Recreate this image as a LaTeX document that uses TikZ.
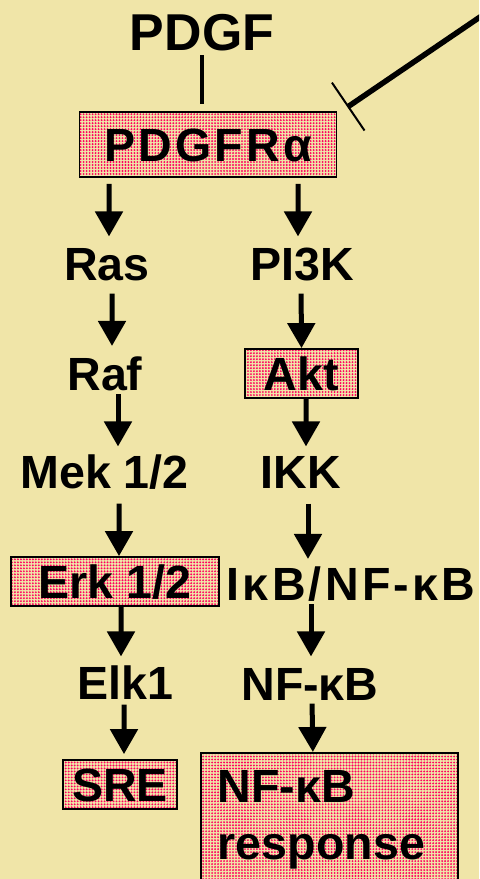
\documentclass[tikz,border=0pt]{standalone}
\usepackage{fontspec}
\setmainfont{Liberation Sans}
\usetikzlibrary{arrows.meta, patterns.meta}

\definecolor{paper}{RGB}{240,229,168}
\definecolor{dotpink}{RGB}{255,0,96}
\newcommand{\lblfont}{\fontsize{26.5}{32.3}\selectfont\bfseries}
\newcommand{\widefont}{\lblfont\addfontfeature{LetterSpace=7}}

\begin{document}
\begin{tikzpicture}

% Styles
\tikzset{
  lbl/.style={font=\lblfont, inner sep=0pt, text height=19pt, text depth=0pt},
  dotbox/.style={draw, line width=1pt, pattern={Dots[radius=0.6pt, distance=1.7pt]}, pattern color=dotpink},
  block/.style={lbl, dotbox},
  link/.style={line width=0.08cm},
  arr/.style={line width=0.1cm, -{Triangle[length=0.5cm, width=0.54cm]}},
  inhib/.style={line width=0.11cm, -{Bar[width=1.16cm, line width=0.04cm]}}
}

% Page
\clip (0,0) rectangle (9.58,-17.58);
\fill[paper] (0,0) rectangle (9.58,-17.58);

% Nodes
\node (pdgf) [lbl, font=\fontsize{29.5}{35}\selectfont\bfseries, text height=21.1pt] at (4.04,-0.63) {PDGF};
\node (pdgfr) [block, font=\widefont, minimum width=5.14cm, minimum height=1.3cm] at (4.16,-2.89) {PDGFRα};
\node (ras) [lbl] at (2.14,-5.27) {Ras};
\node (pi3k) [lbl] at (6.04,-5.27) {PI3K};
\node (raf) [lbl] at (2.10,-7.48) {Raf};
\node (akt) [block, minimum width=2.26cm, minimum height=0.98cm] at (6.03,-7.47) {Akt};
\node (mek) [lbl] at (2.09,-9.43) {Mek 1/2};
\node (ikk) [lbl] at (6.02,-9.43) {IKK};
\node (erk) [block, minimum width=4.16cm, minimum height=0.98cm] at (2.30,-11.63) {Erk 1/2};
\node (ikb) [lbl, font=\widefont] at (7.02,-11.68) {IκB/NF-κB};
\node (elk) [lbl] at (2.50,-13.65) {Elk1};
\node (nfkb) [lbl] at (6.20,-13.67) {NF-κB};
\node (sre) [block, minimum width=2.28cm, minimum height=0.98cm] at (2.40,-15.69) {SRE};
\node (resp) [dotbox, font=\lblfont, anchor=north west, text width=4.46cm, align=left,
  inner xsep=0.34cm, inner ysep=0.36cm] at (4.0,-15.04) {NF-κB\\response};
\coordinate (src) at (10.1,0);

% Links
\draw [link, shorten <=.1cm, shorten >=.14cm] (pdgf.south) -- (pdgf.south |- pdgfr.north);
\draw [inhib] (src) -- ([xshift=.2cm, yshift=.08cm]pdgfr.north east);

% Arrows
\draw [arr, shorten <=.12cm, shorten >=.2cm] ([xshift=-1.98cm]pdgfr.south) -- ([xshift=.04cm]ras.north);
\draw [arr, shorten <=.12cm, shorten >=.2cm] ([xshift=1.8cm]pdgfr.south) -- ([xshift=-.08cm]pi3k.north);
\draw [arr, shorten <=.26cm, shorten >=.22cm] ([xshift=.1cm]ras.south) -- ([xshift=.14cm]raf.north);
\draw [arr, shorten <=.26cm] ([xshift=-.02cm]pi3k.south) -- (akt.north);
\draw [arr, shorten <=.06cm, shorten >=.16cm] ([xshift=.26cm]raf.south) -- ([xshift=.27cm]mek.north);
\draw [arr, shorten >=.16cm] ([xshift=.09cm]akt.south) -- ([xshift=.1cm]ikk.north);
\draw [arr, shorten <=.3cm] ([xshift=.29cm]mek.south) -- ([xshift=.08cm]erk.north);
\draw [arr, shorten <=.3cm, shorten >=.16cm] ([xshift=.14cm]ikk.south) -- ([xshift=-.86cm]ikb.north);
\draw [arr, shorten >=.18cm] ([xshift=.12cm]erk.south) -- ([xshift=-.08cm]elk.north);
\draw [arr, shorten <=.06cm, shorten >=.2cm] ([xshift=-.8cm]ikb.south) -- ([xshift=.02cm]nfkb.north);
\draw [arr, shorten <=.1cm, shorten >=.1cm] ([xshift=-.02cm]elk.south) -- ([xshift=.08cm]sre.north);
\draw [arr, shorten <=.06cm] ([xshift=.04cm]nfkb.south) -- ([xshift=-.33cm]resp.north);

\end{tikzpicture}
\end{document}
